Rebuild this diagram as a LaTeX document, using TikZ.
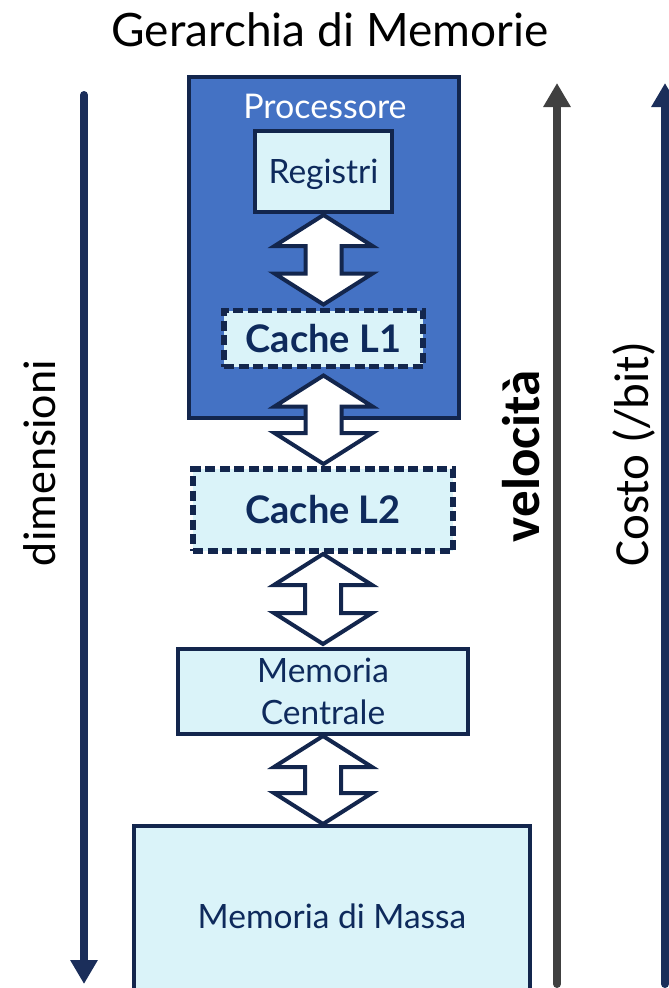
\documentclass[tikz,border=0pt]{standalone}
\usepackage{fontspec}
\setmainfont{Lato}
\newfontfamily\sidefont{Carlito}
\usetikzlibrary{calc,arrows.meta}
\definecolor{procblue}{HTML}{4472C4}
\definecolor{navy}{HTML}{13264D}
\definecolor{paleblue}{HTML}{DAF3F9}
\definecolor{textnavy}{HTML}{0E2A5C}
\definecolor{axisgray}{HTML}{404040}
\definecolor{axisnavy}{HTML}{1B2E5A}

% double-headed block arrow between two stacked boxes
% #1 upper node, #2 lower node, #3 gap below #1, #4 gap above #2
\newcommand\blockarrow[4]{%
  \coordinate (T) at ($(#1.south)+(0,#3)$);
  \coordinate (B) at ($(T |- #2.north)+(0,-#4)$);
  \draw[bidir] (T) -- ($(T)+(49,31)$) -- ($(T)+(18,31)$) -- ($(B)+(18,-31)$)
    -- ($(B)+(49,-31)$) -- (B) -- ($(B)+(-49,-31)$) -- ($(B)+(-18,-31)$)
    -- ($(T)+(-18,31)$) -- ($(T)+(-49,31)$) -- cycle;
}

\begin{document}
\begin{tikzpicture}[x=1pt,y=-1pt,
  box/.style={draw=navy,line width=4pt,fill=paleblue,text=textnavy,
    inner sep=0pt,outer sep=0pt,align=center,font=\fontsize{33.5}{42}\selectfont},
  dashbox/.style={box,line width=5.5pt,dash pattern=on 10pt off 4.5pt,
    font=\fontsize{38}{42}\selectfont\bfseries},
  bidir/.style={draw=navy,fill=white,line width=4pt,line join=miter},
  axis/.style={line width=8pt,line cap=round,-{Triangle[length=24pt,width=26pt]}},
  sidelabel/.style={rotate=90,inner sep=0pt,font=\sidefont\fontsize{46}{46}\selectfont}]
\useasboundingbox (0,0) rectangle (669,988);
\clip (0,0) rectangle (669,988);

% title
\node (title) at (330,30) {\fontsize{46}{46}\selectfont Gerarchia di Memorie};

% processor block
\node[draw=navy,line width=4pt,fill=procblue,inner sep=0pt,outer sep=0pt,
  minimum width=270pt,minimum height=341pt] (proc) at (324,247.5) {};
\node[text=white,font=\fontsize{34}{34}\selectfont] (proclabel) at (325,106) {Processore};

% memory levels
\node[box,minimum width=137pt,minimum height=81pt,text height=24pt,text depth=0pt]
  (reg) at (323.5,171.5) {Registri};
\node[dashbox,minimum width=199pt,minimum height=56pt] (l1) at (323.5,338.5) {Cache L1};
\node[dashbox,minimum width=260pt,minimum height=82pt] (l2) at (323,510) {Cache L2};
\node[box,minimum width=290pt,minimum height=85pt] (mc) at (323,691.5) {Memoria\\Centrale};
\node[box,minimum width=396pt,minimum height=180pt] (mm) at (332,916) {Memoria di Massa};

% transfers between levels
\blockarrow{reg}{l1}{3}{6}
\blockarrow{l1}{l2}{9}{5}
\blockarrow{l2}{mc}{3}{5}
\blockarrow{mc}{mm}{2}{2}

% scales at the sides
\coordinate (dimtop) at (84,95);
\coordinate (dimbot) at (84,984);
\draw[axis,draw=axisnavy,fill=axisnavy] (dimtop) -- (dimbot);
\coordinate (veltop) at (557,83);
\coordinate (velbot) at (557,984);
\draw[axis,draw=axisgray,fill=axisgray] (velbot) -- (veltop);
\coordinate (costtop) at (665,83);
\coordinate (costbot) at (665,984);
\draw[axis,draw=axisnavy,fill=axisnavy] (costbot) -- (costtop);

\node[sidelabel] (dim) at (40,463) {dimensioni};
\node[sidelabel,font=\sidefont\fontsize{53}{53}\selectfont\bfseries] (vel) at (521,456) {velocità};
\node[sidelabel,font=\sidefont\fontsize{49}{49}\selectfont] (cost) at (634,454) {Costo (/bit)};
\end{tikzpicture}
\end{document}
